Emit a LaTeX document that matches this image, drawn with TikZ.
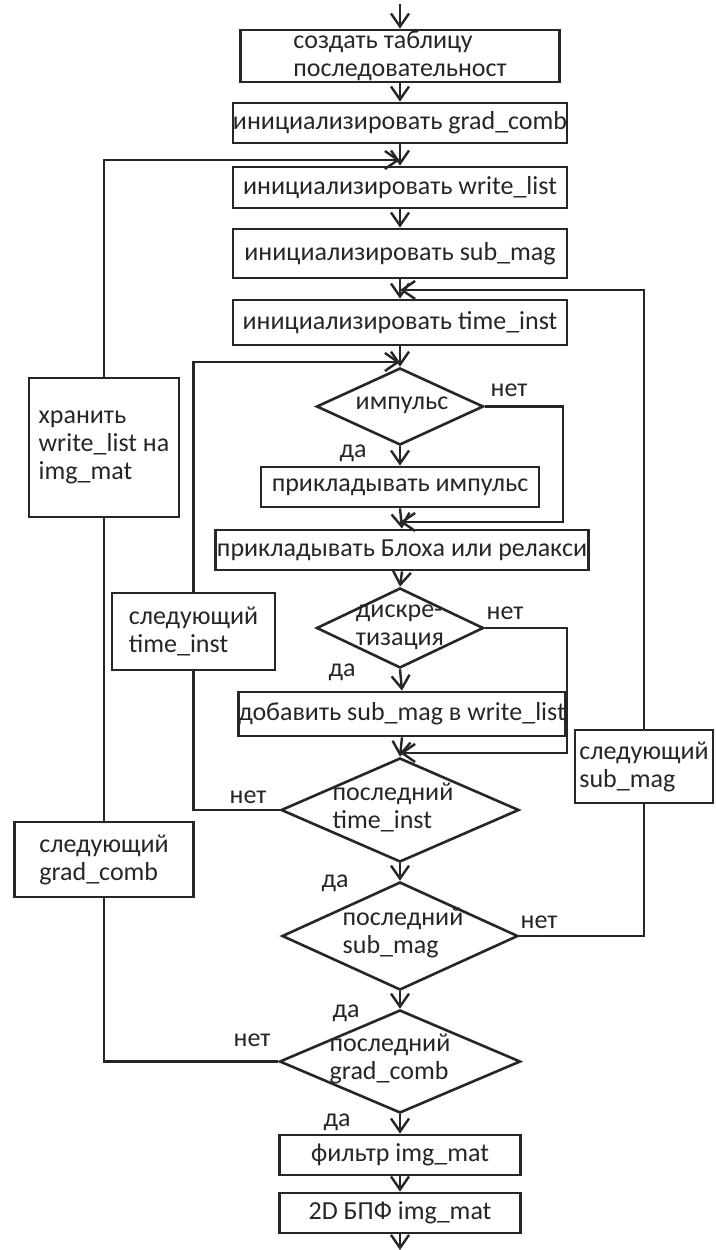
\documentclass[tikz,border=0pt]{standalone}
\usepackage{fontspec}
\setmainfont{Carlito}
\usetikzlibrary{shapes.geometric,arrows.meta}
\definecolor{ink}{HTML}{262626}
\begin{document}
\begin{tikzpicture}[x=1pt,y=-1pt,
 font=\fontsize{26}{28}\selectfont,
 every node/.style={text=ink},
 box/.style={draw=ink, line width=2.8pt, rectangle, inner sep=0pt},
 dia/.style={draw=ink, line width=2.6pt, diamond, inner sep=0pt},
 lab/.style={inner sep=0pt, align=left},
 arr/.style={draw=ink, line width=2.4pt, -{Straight Barb[length=13pt,width=18pt]}},
 ln/.style={draw=ink, line width=2.4pt}]
\fill[white] (0,0) rectangle (715,1250);
\useasboundingbox (0,0) rectangle (715,1250);

% main column
\node[box, minimum width=319pt, minimum height=52pt, align=left] (b1) at (400,56) {создать таблицу\\последовательност};
\node[box, minimum width=334pt, minimum height=40pt] (b2) at (400,123) {инициализировать grad\_comb};
\node[box, minimum width=334pt, minimum height=41pt] (b3) at (400,187.5) {инициализировать write\_list};
\node[box, minimum width=334pt, minimum height=49pt] (b4) at (400,253.5) {инициализировать sub\_mag};
\node[box, minimum width=334pt, minimum height=45pt] (b5) at (400,322.5) {инициализировать time\_inst};
\node[dia, minimum width=167pt, minimum height=77pt] (d1) at (400,406.5) {};
\node[lab] (t1) at (402,405) {импульс};
\node[box, minimum width=278pt, minimum height=40pt] (b6) at (400,487) {прикладывать импульс};
\node[box, minimum width=373pt, minimum height=40pt] (b7) at (402,550) {прикладывать Блоха или релакси};
\node[dia, minimum width=167pt, minimum height=80pt] (d2) at (400,628) {};
\node[lab] (t2) at (400,627) {дискре-\\тизация};
\node[box, minimum width=323pt, minimum height=44pt] (b8) at (402,714) {добавить sub\_mag в write\_list};
\node[dia, minimum width=238pt, minimum height=104pt] (d3) at (400,810) {};
\node[lab] (t3) at (393,807) {последний\\time\_inst};
\node[dia, minimum width=236pt, minimum height=108pt] (d4) at (400,936) {};
\node[lab] (t4) at (403,933) {последний\\sub\_mag};
\node[dia, minimum width=241pt, minimum height=103pt] (d5) at (400,1061.5) {};
\node[lab] (t5) at (390,1059) {последний\\grad\_comb};
\node[box, minimum width=241pt, minimum height=40pt] (b9) at (400,1155) {фильтр img\_mat};
\node[box, minimum width=241pt, minimum height=40pt] (b10) at (400,1213) {2D БПФ img\_mat};

% side boxes
\node[box, minimum width=150pt, minimum height=139pt, align=left] (store) at (104,447.5) {хранить\\write\_list на\\img\_mat};
\node[box, minimum width=163pt, minimum height=77pt, align=left] (stt) at (193.5,631.5) {следующий\\time\_inst};
\node[box, minimum width=138pt, minimum height=73pt, align=left] (ssm) at (644,766.5) {следующий\\sub\_mag};
\node[box, minimum width=179pt, minimum height=75pt, align=left] (sgc) at (104,859.5) {следующий\\grad\_comb};

% junction points
\coordinate (top) at (400,4);
\coordinate (bot) at (400,1250);
\coordinate (j1) at (400,160);
\coordinate (j2) at (400,290);
\coordinate (j3) at (400,362);
\coordinate (j4) at (400,522);
\coordinate (j5) at (400,753);

% main arrows
\draw[arr] (top) -- (b1.north);
\draw[arr] (b1.south) -- (b2.north);
\draw[arr] (b2.south) -- (b3.north);
\draw[arr] (b3.south) -- (b4.north);
\draw[arr] (b4.south) -- (b5.north);
\draw[arr] (b5.south) -- (d1.north);
\draw[arr] (d1.south) -- (b6.north);
\draw[arr] (b6.south) -- (b7.north);
\draw[arr] (b7.south) -- (d2.north);
\draw[arr] (d2.south) -- (b8.north);
\draw[arr] (b8.south) -- (d3.north);
\draw[arr] (d3.south) -- (d4.north);
\draw[arr] (d4.south) -- (d5.north);
\draw[arr] (d5.south) -- (b9.north);
\draw[arr] (b9.south) -- (b10.north);
\draw[arr] (b10.south) -- (bot);

% bypasses
\draw[arr] (d1.east) -- ++(78,0) |- (j4);
\draw[arr] (d2.east) -- ++(82,0) |- (j5);

% loops
\draw[ln] (d3.west) -| (stt.south);
\draw[arr] (stt.north) |- (j3);
\draw[ln] (d4.east) -| (ssm.south);
\draw[arr] (ssm.north) |- (j2);
\draw[ln] (d5.west) -| (sgc.south);
\draw[ln] (sgc.north) -- (store.south);
\draw[arr] (store.north) |- (j1);

% labels
\node[lab] (n1) at (509,390) {нет};
\node[lab] (y1) at (353,453) {да};
\node[lab] (n2) at (505,613) {нет};
\node[lab] (y2) at (342,672) {да};
\node[lab] (n3) at (248,797) {нет};
\node[lab] (y3) at (335,883) {да};
\node[lab] (n4) at (539,922) {нет};
\node[lab] (y4) at (346,1013) {да};
\node[lab] (n5) at (252,1040) {нет};
\node[lab] (y5) at (337,1122) {да};
\end{tikzpicture}
\end{document}
